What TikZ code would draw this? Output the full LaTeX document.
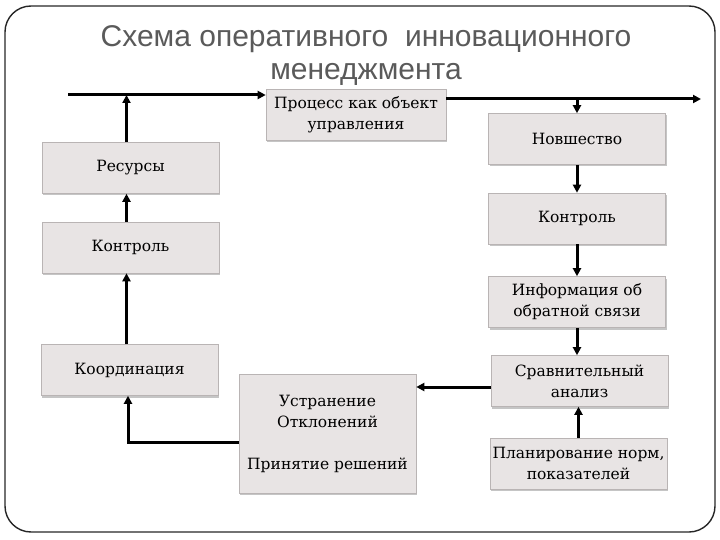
\documentclass[tikz,border=0pt]{standalone}
\usepackage{fontspec}
\setmainfont{DejaVu Serif}
\newfontfamily\titlefont{Liberation Sans}
\usetikzlibrary{arrows.meta,shadows}
\definecolor{boxfill}{RGB}{232,228,228}
\definecolor{boxline}{RGB}{185,180,180}
\definecolor{titlegray}{RGB}{90,90,90}
\begin{document}
\begin{tikzpicture}[x=1pt,y=-1pt,
  blk/.style={rectangle, draw=boxline, fill=boxfill, line width=0.6pt,
    minimum width=177pt, minimum height=51pt, inner sep=0pt, align=center,
    font=\fontsize{15.5}{21}\selectfont,
    drop shadow={shadow xshift=1pt,shadow yshift=-2pt,fill=black!45}},
  conn/.style={line width=3pt, -{Triangle[length=8pt,width=8pt]}},
]
\useasboundingbox (0,0) rectangle (720,540);
\draw[line width=1.4pt, rounded corners=26pt, draw=black!85] (5,6) rectangle (715,532);
\node[font=\titlefont\fontsize{30}{33}\selectfont, text=titlegray, align=center] (title) at (366,56) {Схема оперативного~ инновационного\\менеджмента};

\node[blk, minimum width=180pt] (proc) at (356,114.5) {Процесс как объект\\управления};
\node[blk] (nov) at (577,139) {Новшество};
\node[blk] (res) at (130.5,168) {Ресурсы};
\node[blk] (kl) at (130.5,247.5) {Контроль};
\node[blk] (kr) at (577,218.5) {Контроль};
\node[blk] (info) at (577,302) {Информация об\\обратной связи};
\node[blk] (coord) at (129.5,370) {Координация};
\node[blk, minimum height=119pt] (ustr) at (327.5,433.5) {Устранение\\Отклонений\\[21pt]Принятие решений};
\node[blk] (srav) at (579.5,381) {Сравнительный\\анализ};
\node[blk] (plan) at (578.5,463.5) {Планирование норм,\\показателей};

\coordinate (tl) at (68,95);
\coordinate (tr) at (701,99);
\draw[conn] (tl) -- (tl -| proc.west);
\draw[conn] (proc.east |- tr) -- (tr);
\draw[conn] (nov.north |- tr) -- (nov.north);
\draw[conn] ([xshift=-4pt]res.north) -- ([xshift=-4pt]res.north |- tl);
\draw[conn] ([xshift=-4pt]kl.north) -- ([xshift=-4pt]res.south);
\draw[conn] ([xshift=-3pt]coord.north) -- ([xshift=-3pt]coord.north |- kl.south);
\draw[conn] ([yshift=-8.5pt]ustr.west) -| ([xshift=-1.5pt]coord.south);
\draw[conn] ([yshift=-6pt]srav.west) -- ([yshift=-6pt]srav.west -| ustr.east);
\draw[conn] (nov.south) -- (nov.south |- kr.north);
\draw[conn] (kr.south) -- (info.north);
\draw[conn] (info.south) -- (info.south |- srav.north);
\draw[conn] (plan.north) -- (plan.north |- srav.south);
\end{tikzpicture}
\end{document}
